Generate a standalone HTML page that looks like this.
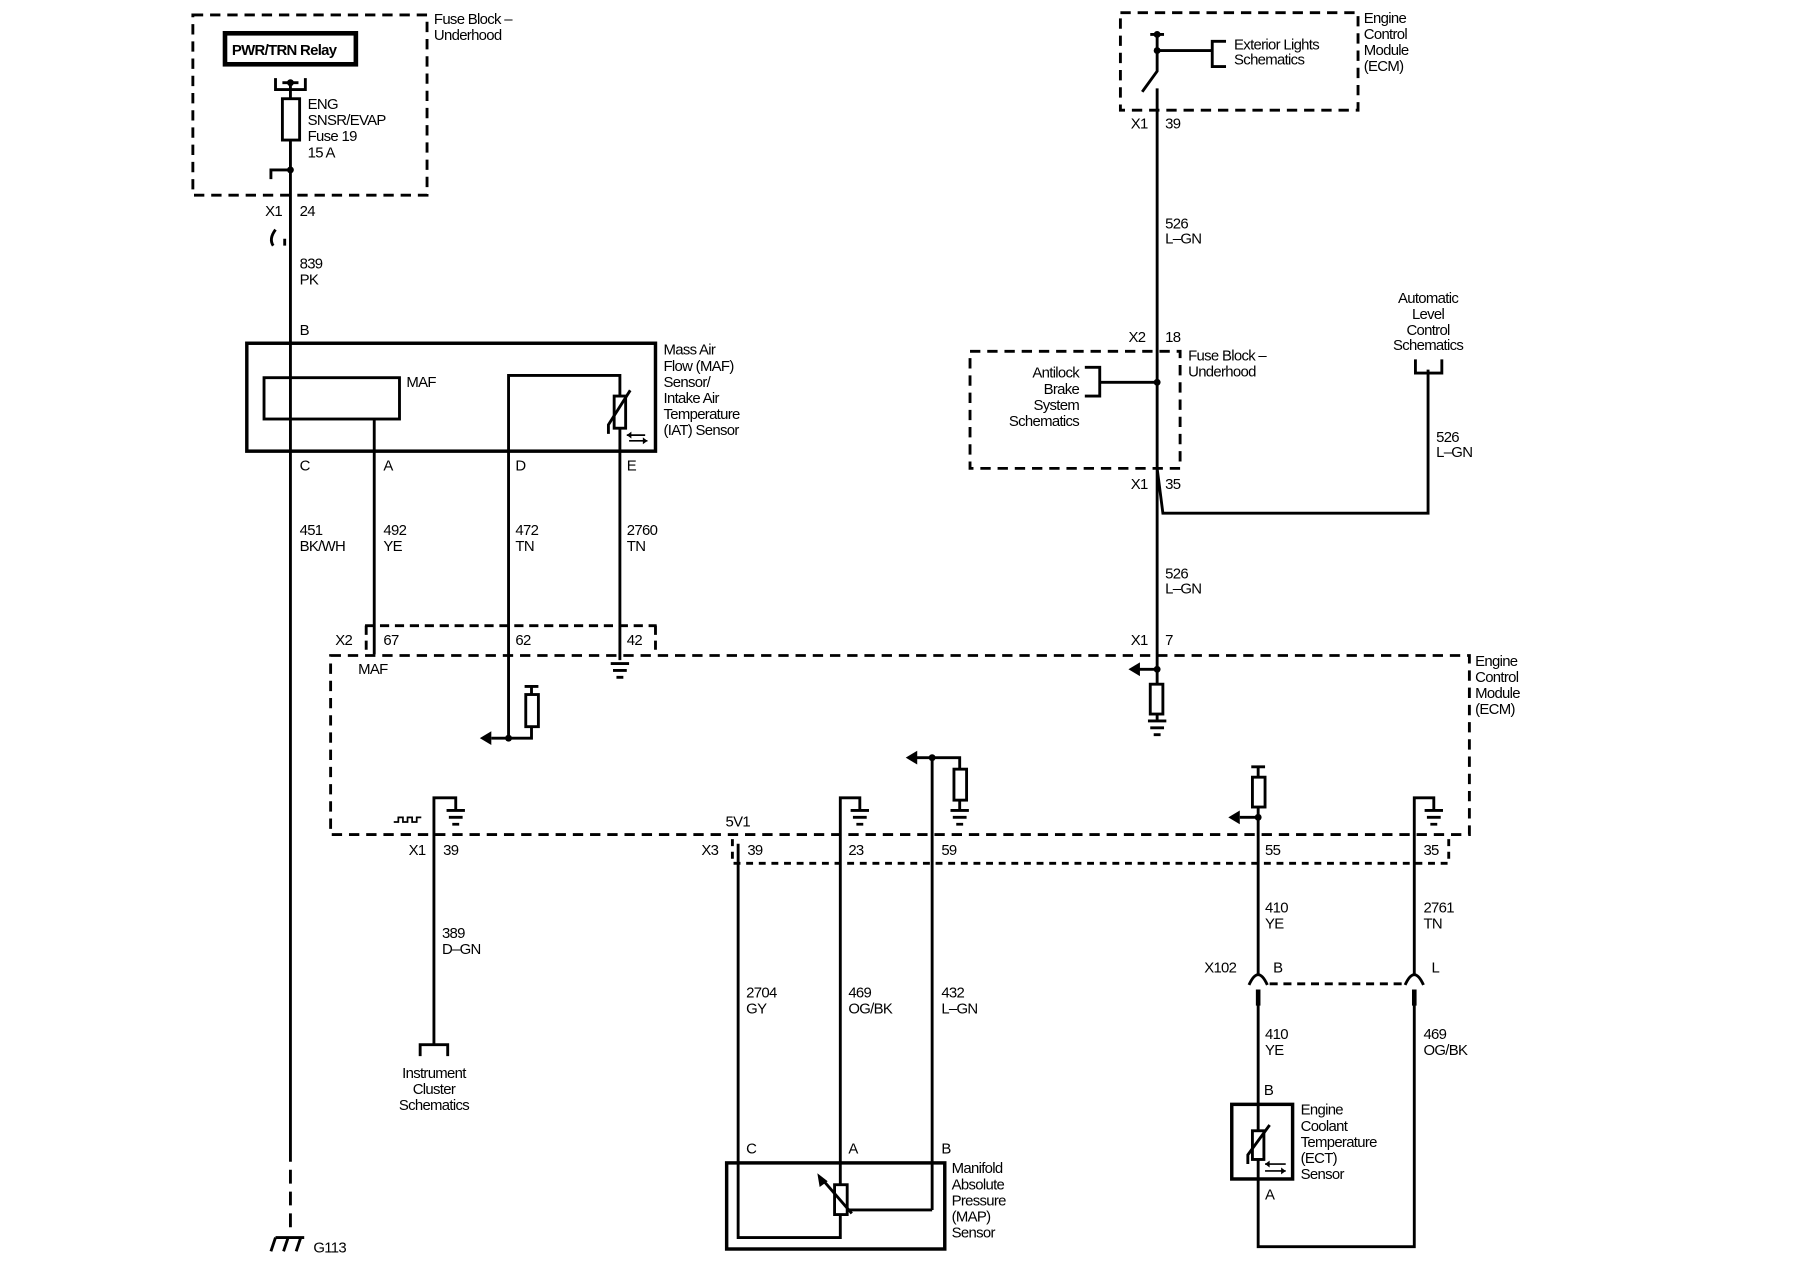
<!DOCTYPE html>
<html><head><meta charset="utf-8"><style>
html,body{margin:0;padding:0;background:#fff}
svg{display:block}
text{font-family:"Liberation Sans",sans-serif;font-size:13px;fill:#000;letter-spacing:-0.6px}
</style></head><body>
<svg width="1800" height="1280" viewBox="0 0 1568 1115" preserveAspectRatio="none" xmlns="http://www.w3.org/2000/svg">
<g fill="none" stroke="#000" stroke-width="2.5">
<!-- Fuse block top-left -->
<rect x="168" y="13" width="204" height="157" stroke-dasharray="9,6"/>
<rect x="196" y="29" width="114" height="27" stroke-width="4"/>
<path d="M240 68 V78 H266 V68"/>
<path d="M246 72 H260"/>
<rect x="246" y="86" width="15" height="36"/>
<path d="M253 72 V86 M253 122 V1000"/>
<path d="M253 148 H236 V156"/>
<path d="M253 1000 V1075" stroke-dasharray="12,7"/>
<path d="M240 200 q-6 8 -2 14 M248 208 l0 6"/>
<!-- MAF -->
<rect x="215" y="299" width="356" height="94" stroke-width="3"/>
<rect x="230" y="329" width="118" height="36"/>
<path d="M326 365 V570 M443 643 V327 H540 V393 M540 393 V575"/>
<rect x="535" y="345" width="10" height="28" fill="#fff"/>
<path d="M530 378 V370 L549 340"/>
<path d="M546 379 H562 M548 384 H564" stroke-width="1.5"/>
<!-- X2 connector -->
<path d="M318 545 H572 M319 545 V568 M571 545 V568" stroke-dasharray="8,5"/>
<!-- ECM main -->
<rect x="288" y="571" width="992" height="156" stroke-dasharray="9,6"/>
<path d="M443 643 H428 M443 643 H463 V633 M463 605 V598 M457 598 H469"/>
<rect x="458" y="605" width="11" height="28"/>
<path d="M532 578 H548 M534 584 H546 M537 590 H543"/>
<!-- right main wire -->
<rect x="976" y="11" width="207" height="85" stroke-dasharray="9,6"/>
<path d="M1002 30 H1014 M1008 30 V62 L995 80"/>
<path d="M1008 77 V408 L1013 447 H1244 V322 M1008 408 V583"/>
<path d="M1008 44 H1056 M1068 36 H1056 V58 H1068"/>
<path d="M1233 313 V325 H1256 V313"/>
<rect x="845" y="306" width="183" height="102" stroke-dasharray="9,6"/>
<path d="M1008 333 H958 M945 320 H958 V345 H945"/>
<path d="M1008 583 H992 M1008 583 V596 M1008 622 V628 M1000 628 H1016 M1002 634 H1014 M1005 640 H1011"/>
<rect x="1002" y="596" width="11" height="26"/>
<!-- bottom row -->
<path d="M378 910 V695 H397 V705 M389 706 H405 M391 712 H403 M394 718 H400"/>
<path d="M343 716 h4 v-4 h4 v4 h4 v-4 h4 v4 h4 v-4 h4" stroke-width="1.5"/>
<path d="M366 920 V910 H390 V920"/>
<path d="M638 731 V752 H1262 V731" stroke-dasharray="6,5"/>
<path d="M643 735 V1078 H732 V1058 M732 1032 V695 H749 V705 M741 706 H757 M743 712 H755 M746 718 H752"/>
<path d="M812 1054 H738 M812 1054 V660 H836 V670 M836 697 V705 M828 706 H844 M830 712 H842 M833 718 H839 M812 660 H797"/>
<rect x="831" y="670" width="11" height="27"/>
<rect x="633" y="1013" width="190" height="75" stroke-width="3"/>
<rect x="727" y="1032" width="11" height="26" fill="#fff"/>
<path d="M742 1057 L716 1027"/>
<path d="M1096 668 V677 M1090 668 H1102 M1096 703 V850 M1096 712 H1080"/>
<rect x="1091" y="677" width="11" height="26"/>
<path d="M1232 850 V695 H1249 V705 M1241 706 H1257 M1243 712 H1255 M1246 718 H1252"/>
<path d="M1088 858 q8 -18 16 0 M1224 858 q8 -18 16 0"/>
<path d="M1106 857 H1224" stroke-dasharray="7,5"/>
<path d="M1096 862 V1086 H1232 V862" />
<path d="M1096 862 V876 M1232 862 V876" stroke-width="4"/>
<rect x="1073" y="962" width="53" height="65" stroke-width="3"/>
<rect x="1091" y="985" width="10" height="25" fill="#fff"/>
<path d="M1087 1014 V1006 L1106 980"/>
<path d="M1102 1014 H1120 M1102 1020 H1120" stroke-width="1.5"/>
<path d="M240 1078 H265 M236 1090 L240 1078 M247 1090 L251 1078 M258 1090 L262 1078"/>
</g>
<g fill="#000">
<circle cx="253" cy="72" r="3"/><circle cx="253" cy="148" r="3"/>
<circle cx="1008" cy="30" r="3"/><circle cx="1008" cy="44" r="3"/><circle cx="1008" cy="333" r="3"/>
<circle cx="1008" cy="583" r="3"/><circle cx="443" cy="643" r="3"/><circle cx="812" cy="660" r="3"/><circle cx="1096" cy="712" r="3"/>
<path d="M418 643 l10 -6 v12 z"/><path d="M983 583 l10 -6 v12 z"/><path d="M789 660 l10 -6 v12 z"/><path d="M1070 712 l10 -6 v12 z"/>
<path d="M712 1022 l2 12 l7 -5 z"/>
<path d="M546 379 l4 -3 v6 z M564 384 l-4 -3 v6 z M1102 1014 l4 -3 v6 z M1120 1020 l-4 -3 v6 z"/>
</g>
<text x="202" y="48" font-weight="bold">PWR/TRN Relay</text>
<text x="378" y="21">Fuse Block –</text><text x="378" y="35">Underhood</text>
<text x="268" y="95">ENG</text><text x="268" y="109">SNSR/EVAP</text><text x="268" y="123">Fuse 19</text><text x="268" y="137">15 A</text>
<text x="231" y="188">X1</text><text x="261" y="188">24</text>
<text x="261" y="234">839</text><text x="261" y="248">PK</text>
<text x="261" y="292">B</text>
<text x="354" y="337">MAF</text>
<text x="578" y="309">Mass Air</text><text x="578" y="323">Flow (MAF)</text><text x="578" y="337">Sensor/</text><text x="578" y="351">Intake Air</text><text x="578" y="365">Temperature</text><text x="578" y="379">(IAT) Sensor</text>
<text x="261" y="410">C</text><text x="334" y="410">A</text><text x="449" y="410">D</text><text x="546" y="410">E</text>
<text x="261" y="466">451</text><text x="261" y="480">BK/WH</text>
<text x="334" y="466">492</text><text x="334" y="480">YE</text>
<text x="449" y="466">472</text><text x="449" y="480">TN</text>
<text x="546" y="466">2760</text><text x="546" y="480">TN</text>
<text x="292" y="562">X2</text><text x="334" y="562">67</text><text x="449" y="562">62</text><text x="546" y="562">42</text>
<text x="312" y="587">MAF</text>
<text x="1188" y="20">Engine</text><text x="1188" y="34">Control</text><text x="1188" y="48">Module</text><text x="1188" y="62">(ECM)</text>
<text x="1075" y="43">Exterior Lights</text><text x="1075" y="56">Schematics</text>
<text x="985" y="112">X1</text><text x="1015" y="112">39</text>
<text x="1015" y="199">526</text><text x="1015" y="212">L–GN</text>
<text x="983" y="298">X2</text><text x="1015" y="298">18</text>
<text x="1035" y="314">Fuse Block –</text><text x="1035" y="328">Underhood</text>
<text x="940" y="329" text-anchor="end">Antilock</text><text x="940" y="343" text-anchor="end">Brake</text><text x="940" y="357" text-anchor="end">System</text><text x="940" y="371" text-anchor="end">Schematics</text>
<text x="1244" y="264" text-anchor="middle">Automatic</text><text x="1244" y="278" text-anchor="middle">Level</text><text x="1244" y="292" text-anchor="middle">Control</text><text x="1244" y="305" text-anchor="middle">Schematics</text>
<text x="1251" y="385">526</text><text x="1251" y="398">L–GN</text>
<text x="985" y="426">X1</text><text x="1015" y="426">35</text>
<text x="1015" y="504">526</text><text x="1015" y="517">L–GN</text>
<text x="985" y="562">X1</text><text x="1015" y="562">7</text>
<text x="1285" y="580">Engine</text><text x="1285" y="594">Control</text><text x="1285" y="608">Module</text><text x="1285" y="622">(ECM)</text>
<text x="632" y="720">5V1</text>
<text x="356" y="745">X1</text><text x="386" y="745">39</text>
<text x="611" y="745">X3</text><text x="651" y="745">39</text><text x="739" y="745">23</text><text x="820" y="745">59</text><text x="1102" y="745">55</text><text x="1240" y="745">35</text>
<text x="385" y="817">389</text><text x="385" y="831">D–GN</text>
<text x="378" y="939" text-anchor="middle">Instrument</text><text x="378" y="953" text-anchor="middle">Cluster</text><text x="378" y="967" text-anchor="middle">Schematics</text>
<text x="650" y="869">2704</text><text x="650" y="883">GY</text>
<text x="739" y="869">469</text><text x="739" y="883">OG/BK</text>
<text x="820" y="869">432</text><text x="820" y="883">L–GN</text>
<text x="650" y="1005">C</text><text x="739" y="1005">A</text><text x="820" y="1005">B</text>
<text x="829" y="1022">Manifold</text><text x="829" y="1036">Absolute</text><text x="829" y="1050">Pressure</text><text x="829" y="1064">(MAP)</text><text x="829" y="1078">Sensor</text>
<text x="1102" y="795">410</text><text x="1102" y="809">YE</text>
<text x="1240" y="795">2761</text><text x="1240" y="809">TN</text>
<text x="1049" y="847">X102</text><text x="1109" y="847">B</text><text x="1247" y="847">L</text>
<text x="1102" y="905">410</text><text x="1102" y="919">YE</text>
<text x="1240" y="905">469</text><text x="1240" y="919">OG/BK</text>
<text x="1101" y="954">B</text><text x="1102" y="1045">A</text>
<text x="1133" y="971">Engine</text><text x="1133" y="985">Coolant</text><text x="1133" y="999">Temperature</text><text x="1133" y="1013">(ECT)</text><text x="1133" y="1027">Sensor</text>
<text x="273" y="1091">G113</text>
</svg>
</body></html>
